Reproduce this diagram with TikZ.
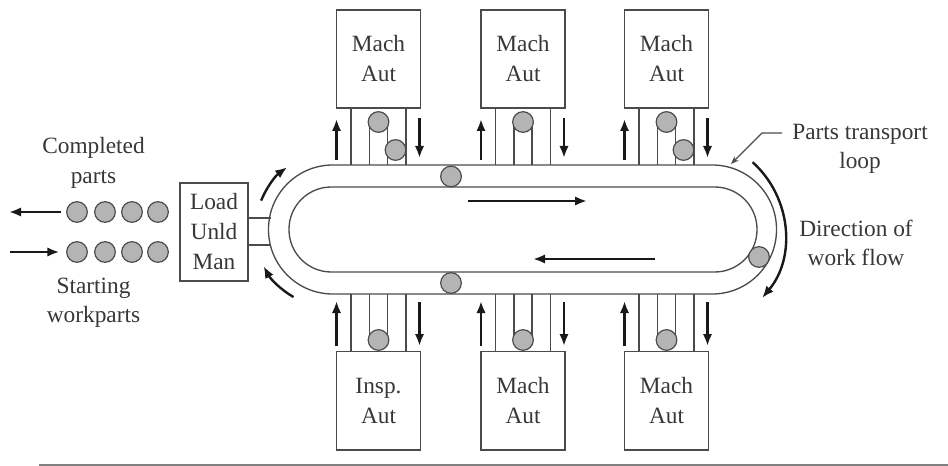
\documentclass[tikz,border=0pt]{standalone}
\usepackage{fontspec}
\setmainfont{Liberation Serif}
\usetikzlibrary{arrows.meta}
\definecolor{lc}{RGB}{75,75,75}
\definecolor{tc}{RGB}{55,55,55}
\definecolor{ac}{RGB}{25,25,25}
\definecolor{pc}{RGB}{180,180,180}
\begin{document}
\begin{tikzpicture}[x=0.75pt,y=0.75pt,
  line/.style={draw=lc,line width=1pt},
  box/.style={draw=lc,line width=1.1pt,minimum width=63pt,minimum height=73.5pt,inner sep=0pt,align=center,text=tc,font=\fontsize{17.5}{22.5}\selectfont},
  txt/.style={align=center,text=tc,inner sep=0pt,font=\fontsize{17.5}{22}\selectfont},
  part/.style={circle,draw=lc,fill=pc,line width=0.9pt,minimum size=15.5pt,inner sep=0pt},
  arr/.style={draw=ac,line width=1.8pt,-{Latex[length=9pt,width=7pt]}}
]
\useasboundingbox (0,0) rectangle (948,-466);

% top stations
\foreach \c/\n/\s in {378.5/t1/1, 523/t2/0, 666.5/t3/1}{
  \node[box] (\n) at (\c,-59) {Mach\\Aut};
  \draw[line] (\c-27.5,-108) -- (\c-27.5,-165);
  \draw[line] (\c+27.5,-108) -- (\c+27.5,-165);
  \draw[line] (\c-9,-122) -- (\c-9,-165);
  \draw[line] (\c+9,-122) -- (\c+9,-165);
  \node[part] (\n a) at (\c,-122) {};
  \ifnum\s=1 \node[part] (\n b) at (\c+17,-150) {}; \fi
  \draw[arr] (\c-42,-160) -- (\c-42,-119);
  \draw[arr] (\c+41,-118) -- (\c+41,-158);
}

% bottom stations
\foreach \c/\n/\t in {378.5/b1/Insp., 523/b2/Mach, 666.5/b3/Mach}{
  \node[box] (\n) at (\c,-400.5) {\t\\Aut};
  \draw[line,line width=1.8pt] (\n.south west) -- (\n.south east);
  \draw[line] (\c-27.5,-294) -- (\c-27.5,-351);
  \draw[line] (\c+27.5,-294) -- (\c+27.5,-351);
  \draw[line] (\c-9,-294) -- (\c-9,-340);
  \draw[line] (\c+9,-294) -- (\c+9,-340);
  \node[part] (\n a) at (\c,-340) {};
  \draw[arr] (\c-42,-346) -- (\c-42,-301);
  \draw[arr] (\c+41,-302) -- (\c+41,-346);
}

% transport loop
\draw[line,rounded corners=48.2pt] (268.5,-165) rectangle (776.5,-294);
\draw[line,rounded corners=31.7pt] (289,-187) rectangle (757,-272);
\node[part] (p1) at (451,-176.5) {};
\node[part] (p2) at (451,-283) {};
\node[part] (p3) at (759,-257) {};

% flow arrows inside loop
\coordinate (f1s) at (468,-201); \coordinate (f1e) at (587,-201);
\coordinate (f2s) at (655,-259); \coordinate (f2e) at (533,-259);
\draw[arr] (f1s) -- (f1e);
\draw[arr] (f2s) -- (f2e);

% load/unload station
\node[box,minimum width=51pt] (lu) at (214,-232) {Load\\Unld\\Man};
\draw[line] ([yshift=10.5pt]lu.east) -- ++(22,0);
\draw[line] ([yshift=-9.75pt]lu.east) -- ++(22,0);

% curved direction arrows
\draw[arr] (332.5,-229.5) ++(158:77) arc[start angle=158,end angle=126,radius=77];
\draw[arr] (332.5,-229.5) ++(240:78) arc[start angle=240,end angle=208,radius=78];
\draw[arr] (687,-235) ++(48:98) arc[start angle=48,end angle=-40,radius=98];

% completed / starting parts
\foreach \x [count=\i] in {77,105,132,158}{
  \node[part] (c\i) at (\x,-212) {};
  \node[part] (s\i) at (\x,-252) {};
}
\coordinate (cout) at (9,-212);
\coordinate (sin) at (10,-252);
\draw[arr] ([xshift=-4pt]c1.west) -- (cout);
\draw[arr] (sin) -- ([xshift=-5pt]s1.west);

% labels
\node[txt] (completed) at (93.5,-163) {Completed\\parts};
\node[txt] (starting) at (93.5,-303) {Starting\\workparts};
\node[txt] (ptl) at (860,-149) {Parts transport\\loop};
\node[txt] (dir) at (856,-243) {Direction of\\work flow};

% leader
\coordinate (l0) at (782,-133);
\coordinate (l1) at (762,-133);
\coordinate (l2) at (731,-164);
\draw[line,-{Stealth[length=6pt,width=4.5pt]}] (l0) -- (l1) -- (l2);

% bottom rule
\coordinate (r0) at (39,-465);
\coordinate (r1) at (948,-465);
\draw[draw=gray,line width=1.5pt] (r0) -- (r1);
\end{tikzpicture}
\end{document}
